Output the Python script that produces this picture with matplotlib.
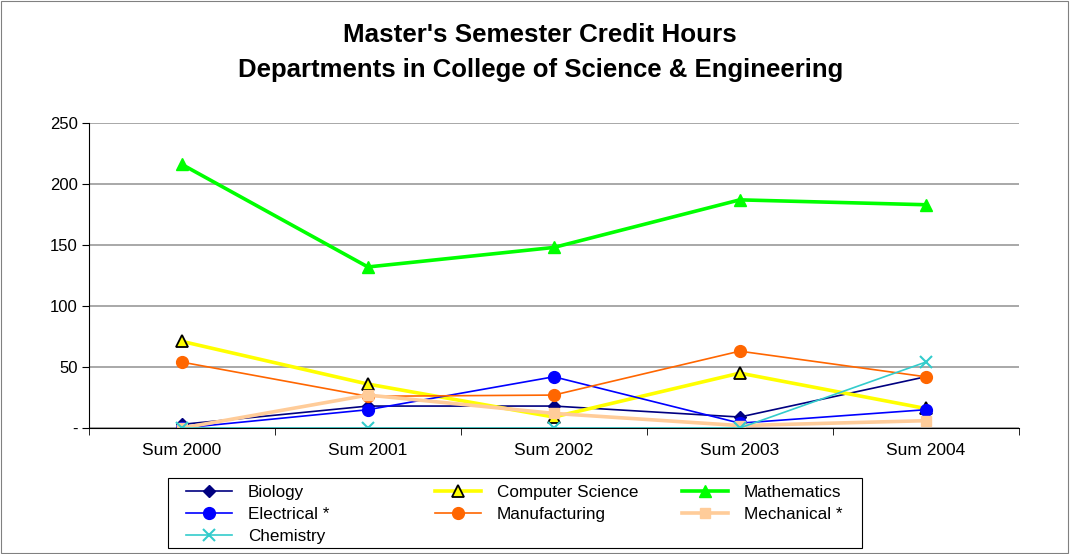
import matplotlib.pyplot as plt
from matplotlib.patches import Rectangle

plt.rcParams['font.family'] = ['Liberation Sans', 'DejaVu Sans']

years = ["Sum 2000", "Sum 2001", "Sum 2002", "Sum 2003", "Sum 2004"]
biology = [3, 18, 18, 9, 42]
comp_sci = [71, 36, 9, 45, 16]
mathematics = [216, 132, 148, 187, 183]
electrical = [0, 15, 42, 4, 15]
manufacturing = [54, 26, 27, 63, 42]
mechanical = [0, 27, 12, 2, 6]
chemistry = [0, 0, 0, 0, 54]

fig = plt.figure(figsize=(10.7, 5.54), dpi=100)
fig.patches.append(Rectangle((0.001, 0.001), 0.997, 0.997, transform=fig.transFigure,
                             fill=False, edgecolor='#808080', linewidth=0.8))
ax = fig.add_axes([0.0832, 0.2274, 0.8688, 0.5506])

x = list(range(len(years)))
lines = {}
lines['Biology'] = ax.plot(x, biology, color='#000080', lw=1.2, marker='D', ms=6, label='Biology')[0]
lines['Computer Science'] = ax.plot(x, comp_sci, color='#FFFF00', lw=2.6, marker='^', ms=8,
                                    mfc='#FFFF00', mec='black', mew=1.3, label='Computer Science')[0]
lines['Mathematics'] = ax.plot(x, mathematics, color='#00FF00', lw=2.6, marker='^', ms=8,
                               label='Mathematics')[0]
lines['Electrical *'] = ax.plot(x, electrical, color='#0000FF', lw=1.2, marker='o', ms=8.5,
                                label='Electrical *')[0]
lines['Manufacturing'] = ax.plot(x, manufacturing, color='#FF6600', lw=1.2, marker='o', ms=8.5,
                                 label='Manufacturing')[0]
lines['Mechanical *'] = ax.plot(x, mechanical, color='#FFCC99', lw=2.6, marker='s', ms=7,
                                label='Mechanical *')[0]
lines['Chemistry'] = ax.plot(x, chemistry, color='#33CCCC', lw=1.2, marker='x', ms=8, mew=1.5,
                             label='Chemistry')[0]

ax.set_xlim(-0.5, len(years) - 0.5)
ax.set_ylim(0, 250)
ax.set_yticks([0, 50, 100, 150, 200, 250])
ax.set_yticklabels(['-', '50', '100', '150', '200', '250'], fontsize=12)
ax.set_xticks(x)
ax.set_xticklabels(years, fontsize=12.5)
ax.tick_params(axis='x', length=0, pad=11)
ax.set_xticks([i - 0.5 for i in range(len(years) + 1)], minor=True)
ax.tick_params(axis='x', which='minor', length=5, direction='out')
ax.tick_params(axis='y', length=5, direction='out', pad=3)
ax.grid(axis='y', color='#999999', lw=1.2)
ax.set_axisbelow(True)
for s in ['top', 'right']:
    ax.spines[s].set_visible(False)

fig.text(0.505, 0.936, "Master's Semester Credit Hours", ha='center', va='center',
         fontsize=18.7, fontweight='bold')
fig.text(0.505, 0.873, "Departments in College of Science & Engineering", ha='center',
         va='center', fontsize=18.5, fontweight='bold')

# legend frame, then one borderless legend per column so the columns are evenly spaced
fig.patches.append(Rectangle((0.157, 0.0108), 0.6486, 0.1264, transform=fig.transFigure,
                             fill=False, edgecolor='black', linewidth=0.8))
columns = [['Biology', 'Electrical *', 'Chemistry'],
           ['Computer Science', 'Manufacturing'],
           ['Mathematics', 'Mechanical *']]
col_x = [0.1740, 0.4067, 0.6376]
for names, cx in zip(columns, col_x):
    fig.legend([lines[k] for k in names], names, loc='upper left',
               bbox_to_anchor=(cx, 0.125), fontsize=12.3, frameon=False,
               handlelength=2.7, handletextpad=0.9, labelspacing=0.42, borderpad=0,
               borderaxespad=0)

fig.savefig('out.png', dpi=100)
